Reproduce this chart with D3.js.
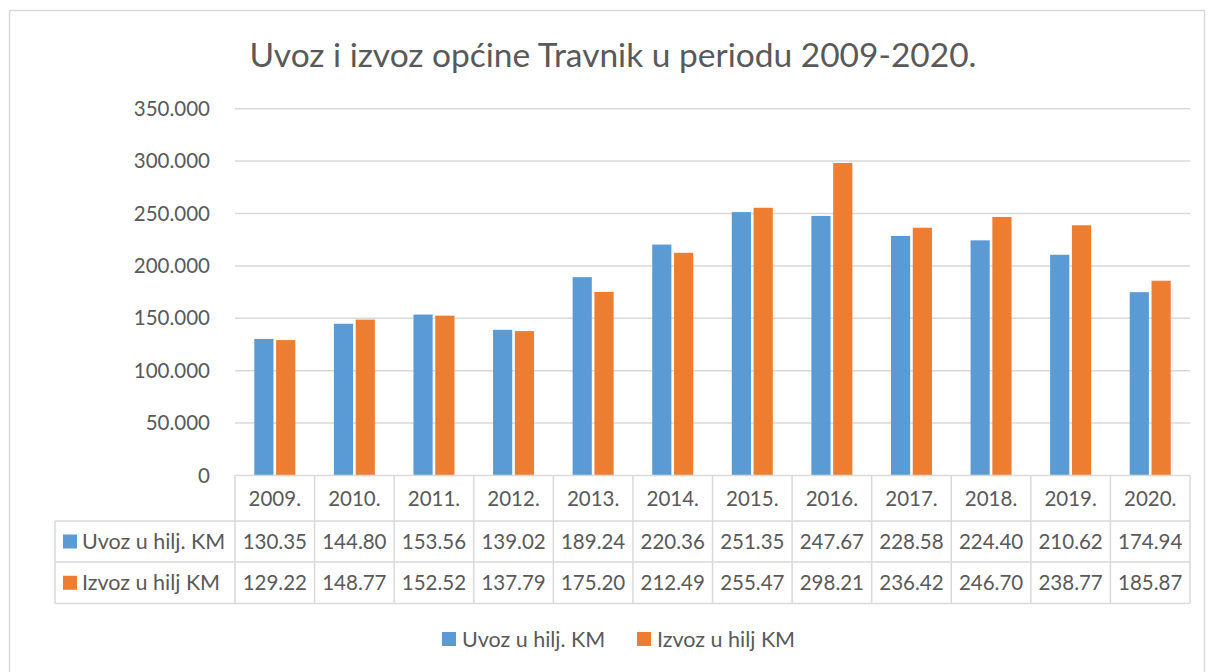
<!DOCTYPE html>
<html>
<head>
<meta charset="utf-8">
<script src="https://cdn.jsdelivr.net/npm/d3@7"></script>
<style>
  body { margin: 0; background: #fff; }
  text { font-family: Lato, "Open Sans", sans-serif; fill: #595959; }
</style>
</head>
<body>
<div id="chart"></div>
<script>
var years = ["2009.", "2010.", "2011.", "2012.", "2013.", "2014.", "2015.", "2016.", "2017.", "2018.", "2019.", "2020."];
var seriesNames = ["Uvoz u hilj. KM", "Izvoz u hilj KM"];
var uvoz = [130.35, 144.80, 153.56, 139.02, 189.24, 220.36, 251.35, 247.67, 228.58, 224.40, 210.62, 174.94];
var izvoz = [129.22, 148.77, 152.52, 137.79, 175.20, 212.49, 255.47, 298.21, 236.42, 246.70, 238.77, 185.87];
var yTicks = [0, 50, 100, 150, 200, 250, 300, 350];
var colors = ["#5B9BD5", "#ED7D31"];
var gridColor = "#D9D9D9";

var width = 1208, height = 672;
var plot = {left: 235, right: 1190, top: 108.7, bottom: 475.5};
var rowY = [475.5, 521, 562, 603.5];
var tableLeft = 55;

var svg = d3.select("#chart").append("svg")
    .attr("width", width)
    .attr("height", height);

// chart frame
svg.append("rect")
    .attr("x", 9.5).attr("y", 10.5)
    .attr("width", 1195).attr("height", 700)
    .attr("fill", "none")
    .attr("stroke", gridColor)
    .attr("stroke-width", 1.5);

svg.append("text")
    .attr("x", 613).attr("y", 67)
    .attr("text-anchor", "middle")
    .style("font-size", "33.5px")
    .text("Uvoz i izvoz općine Travnik u periodu 2009-2020.");

var x = d3.scaleBand().domain(years).range([plot.left, plot.right]).paddingInner(0).paddingOuter(0);
var y = d3.scaleLinear().domain([0, 350]).range([plot.bottom, plot.top]);
var x1 = d3.scaleBand().domain(seriesNames).range([0, 41]).paddingInner(0.12);
var groupOffset = (x.bandwidth() - 41) / 2;

// gridlines
svg.append("g").selectAll("line")
    .data(yTicks.filter(function (d) { return d > 0; }))
    .enter().append("line")
    .attr("x1", plot.left).attr("x2", plot.right)
    .attr("y1", function (d) { return y(d); })
    .attr("y2", function (d) { return y(d); })
    .attr("stroke", gridColor)
    .attr("stroke-width", 1.5);

// y axis labels
var fmt = d3.format(".3f");
var yAxis = d3.axisLeft(y).tickValues(yTicks).tickSize(0).tickPadding(25)
    .tickFormat(function (d) { return d === 0 ? "0" : fmt(d); });
var ya = svg.append("g").attr("transform", "translate(" + plot.left + ",0)").call(yAxis);
ya.select(".domain").remove();
ya.selectAll("text").style("font-size", "20.5px").attr("fill", "#595959").style("font-family", "Lato, sans-serif");

// bars
var series = [uvoz, izvoz];
series.forEach(function (vals, si) {
    svg.append("g").selectAll("rect")
        .data(vals)
        .enter().append("rect")
        .attr("x", function (d, i) { return x(years[i]) + groupOffset + x1(seriesNames[si]); })
        .attr("width", x1.bandwidth())
        .attr("y", function (d) { return y(d); })
        .attr("height", function (d) { return y(0) - y(d); })
        .attr("fill", colors[si]);
});

// data table
var tg = svg.append("g");
// horizontal lines
tg.append("line").attr("x1", plot.left).attr("x2", plot.right)
    .attr("y1", rowY[0]).attr("y2", rowY[0]).attr("stroke", gridColor).attr("stroke-width", 1.5);
[1, 2, 3].forEach(function (r) {
    tg.append("line").attr("x1", tableLeft).attr("x2", plot.right)
        .attr("y1", rowY[r]).attr("y2", rowY[r]).attr("stroke", gridColor).attr("stroke-width", 1.5);
});
// vertical lines
var bounds = years.map(function (d) { return x(d); }).concat([plot.right]);
tg.selectAll("line.v").data(bounds).enter().append("line")
    .attr("x1", function (d) { return d; }).attr("x2", function (d) { return d; })
    .attr("y1", rowY[0]).attr("y2", rowY[3])
    .attr("stroke", gridColor).attr("stroke-width", 1.5);
tg.append("line").attr("x1", tableLeft).attr("x2", tableLeft)
    .attr("y1", rowY[1]).attr("y2", rowY[3]).attr("stroke", gridColor).attr("stroke-width", 1.5);

// header row
tg.selectAll("text.h").data(years).enter().append("text")
    .attr("x", function (d) { return x(d) + x.bandwidth() / 2; })
    .attr("y", (rowY[0] + rowY[1]) / 2)
    .attr("dy", "0.36em")
    .attr("text-anchor", "middle")
    .style("font-size", "20.5px")
    .text(function (d) { return d; });

series.forEach(function (vals, si) {
    var cy = (rowY[si + 1] + rowY[si + 2]) / 2;
    tg.append("rect").attr("x", 63).attr("y", cy - 7).attr("width", 14).attr("height", 14).attr("fill", colors[si]);
    tg.append("text").attr("x", 82).attr("y", cy).attr("dy", "0.36em")
        .style("font-size", "21.5px").text(seriesNames[si]);
    tg.append("g").selectAll("text").data(vals).enter().append("text")
        .attr("x", function (d, i) { return x(years[i]) + x.bandwidth() / 2; })
        .attr("y", cy)
        .attr("dy", "0.36em")
        .attr("text-anchor", "middle")
        .style("font-size", "20.5px")
        .text(function (d) { return d.toFixed(2); });
});

// legend
var legendX = [442, 637];
seriesNames.forEach(function (name, i) {
    svg.append("rect").attr("x", legendX[i]).attr("y", 632).attr("width", 14).attr("height", 14).attr("fill", colors[i]);
    svg.append("text").attr("x", legendX[i] + 20).attr("y", 639).attr("dy", "0.36em")
        .style("font-size", "21.5px").text(name);
});
</script>
</body>
</html>
